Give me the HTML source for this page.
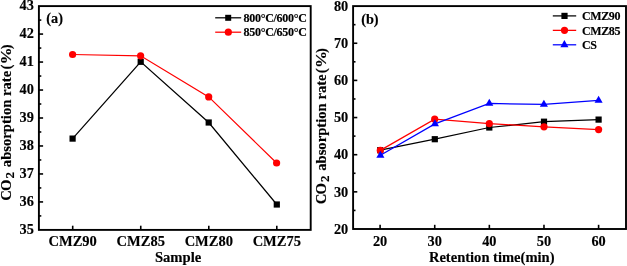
<!DOCTYPE html>
<html><head><meta charset="utf-8"><style>
html,body{margin:0;padding:0;background:#fff;}
svg{display:block;will-change:transform;}
text{font-family:"Liberation Serif", serif;font-weight:bold;fill:#000;stroke:#000;stroke-width:0.15px;}
</style></head><body>
<svg width="627" height="266" viewBox="0 0 627 266">
<rect width="627" height="266" fill="#fff"/>
<polyline points="72.6,138.6 140.7,61.8 208.7,122.5 276.8,204.5" fill="none" stroke="#000" stroke-width="1.25"/>
<polyline points="72.6,54.5 140.6,55.8 208.7,96.9 276.6,163" fill="none" stroke="#f00" stroke-width="1.25"/>
<rect x="69.5" y="135.5" width="6.2" height="6.2" fill="#000"/>
<rect x="137.6" y="58.7" width="6.2" height="6.2" fill="#000"/>
<rect x="205.6" y="119.4" width="6.2" height="6.2" fill="#000"/>
<rect x="273.7" y="201.4" width="6.2" height="6.2" fill="#000"/>
<circle cx="72.6" cy="54.5" r="3.6" fill="#f00"/>
<circle cx="140.6" cy="55.8" r="3.6" fill="#f00"/>
<circle cx="208.7" cy="96.9" r="3.6" fill="#f00"/>
<circle cx="276.6" cy="163" r="3.6" fill="#f00"/>
<rect x="38.9" y="6.1" width="271.8" height="223.8" fill="none" stroke="#000" stroke-width="1.9"/>
<text x="33.8" y="234.2" font-size="14.3" text-anchor="end" >35</text>
<line x1="38.9" y1="201.93" x2="43.1" y2="201.93" stroke="#000" stroke-width="1.6"/>
<text x="33.8" y="206.21" font-size="14.3" text-anchor="end" >36</text>
<line x1="38.9" y1="173.95" x2="43.1" y2="173.95" stroke="#000" stroke-width="1.6"/>
<text x="33.8" y="178.22" font-size="14.3" text-anchor="end" >37</text>
<line x1="38.9" y1="145.97" x2="43.1" y2="145.97" stroke="#000" stroke-width="1.6"/>
<text x="33.8" y="150.23" font-size="14.3" text-anchor="end" >38</text>
<line x1="38.9" y1="118" x2="43.1" y2="118" stroke="#000" stroke-width="1.6"/>
<text x="33.8" y="122.24" font-size="14.3" text-anchor="end" >39</text>
<line x1="38.9" y1="90.03" x2="43.1" y2="90.03" stroke="#000" stroke-width="1.6"/>
<text x="33.8" y="94.25" font-size="14.3" text-anchor="end" >40</text>
<line x1="38.9" y1="62.05" x2="43.1" y2="62.05" stroke="#000" stroke-width="1.6"/>
<text x="33.8" y="66.26" font-size="14.3" text-anchor="end" >41</text>
<line x1="38.9" y1="34.07" x2="43.1" y2="34.07" stroke="#000" stroke-width="1.6"/>
<text x="33.8" y="38.27" font-size="14.3" text-anchor="end" >42</text>
<text x="33.8" y="10.28" font-size="14.3" text-anchor="end" >43</text>
<line x1="38.9" y1="215.91" x2="41.3" y2="215.91" stroke="#000" stroke-width="1.6"/>
<line x1="38.9" y1="187.94" x2="41.3" y2="187.94" stroke="#000" stroke-width="1.6"/>
<line x1="38.9" y1="159.96" x2="41.3" y2="159.96" stroke="#000" stroke-width="1.6"/>
<line x1="38.9" y1="131.99" x2="41.3" y2="131.99" stroke="#000" stroke-width="1.6"/>
<line x1="38.9" y1="104.01" x2="41.3" y2="104.01" stroke="#000" stroke-width="1.6"/>
<line x1="38.9" y1="76.04" x2="41.3" y2="76.04" stroke="#000" stroke-width="1.6"/>
<line x1="38.9" y1="48.06" x2="41.3" y2="48.06" stroke="#000" stroke-width="1.6"/>
<line x1="38.9" y1="20.09" x2="41.3" y2="20.09" stroke="#000" stroke-width="1.6"/>
<line x1="72.7" y1="229.9" x2="72.7" y2="225.7" stroke="#000" stroke-width="1.6"/>
<text x="72.7" y="246.35" font-size="14.5" text-anchor="middle" >CMZ90</text>
<line x1="140.75" y1="229.9" x2="140.75" y2="225.7" stroke="#000" stroke-width="1.6"/>
<text x="140.75" y="246.35" font-size="14.5" text-anchor="middle" >CMZ85</text>
<line x1="208.8" y1="229.9" x2="208.8" y2="225.7" stroke="#000" stroke-width="1.6"/>
<text x="208.8" y="246.35" font-size="14.5" text-anchor="middle" >CMZ80</text>
<line x1="276.8" y1="229.9" x2="276.8" y2="225.7" stroke="#000" stroke-width="1.6"/>
<text x="276.8" y="246.35" font-size="14.5" text-anchor="middle" >CMZ75</text>
<text x="178.1" y="261.9" font-size="14.65" text-anchor="middle" >Sample</text>
<text x="54.6" y="23.3" font-size="14.3" text-anchor="middle" >(a)</text>
<g transform="translate(11,0) rotate(-90)" font-size="14.65"><text x="-200.7" y="0" letter-spacing="-0.8">CO</text><text x="-178.4" y="3" font-size="13">2</text><text x="-167.2" y="0">absorption rate</text><text x="-69.6" y="0">(</text><text transform="translate(-64.4,0) scale(1.17,1)" x="0" y="0">%</text><text x="-49.3" y="0">)</text></g>
<line x1="215.2" y1="17.8" x2="241.2" y2="17.8" stroke="#000" stroke-width="1.25"/>
<rect x="225.2" y="14.8" width="6" height="6" fill="#000"/>
<text x="243.6" y="22" font-size="12.0" text-anchor="start" letter-spacing="-0.3">800°C/600°C</text>
<line x1="215.2" y1="32.2" x2="241.2" y2="32.2" stroke="#f00" stroke-width="1.25"/>
<circle cx="228.3" cy="32.2" r="3.6" fill="#f00"/>
<text x="243.6" y="36.4" font-size="12.0" text-anchor="start" letter-spacing="-0.3">850°C/650°C</text>
<polyline points="380.2,150.2 434.8,139.2 489.3,127.5 544,121.7 598.6,119.6" fill="none" stroke="#000" stroke-width="1.25"/>
<rect x="377.1" y="147.1" width="6.2" height="6.2" fill="#000"/>
<rect x="431.7" y="136.1" width="6.2" height="6.2" fill="#000"/>
<rect x="486.2" y="124.4" width="6.2" height="6.2" fill="#000"/>
<rect x="540.9" y="118.6" width="6.2" height="6.2" fill="#000"/>
<rect x="595.5" y="116.5" width="6.2" height="6.2" fill="#000"/>
<polyline points="380.3,150.4 434.7,119.2 489.3,123.6 544,126.8 598.6,129.6" fill="none" stroke="#f00" stroke-width="1.25"/>
<circle cx="380.3" cy="150.4" r="3.6" fill="#f00"/>
<circle cx="434.7" cy="119.2" r="3.6" fill="#f00"/>
<circle cx="489.3" cy="123.6" r="3.6" fill="#f00"/>
<circle cx="544" cy="126.8" r="3.6" fill="#f00"/>
<circle cx="598.6" cy="129.6" r="3.6" fill="#f00"/>
<polyline points="380.4,155.3 434.9,123.9 489.3,103.5 543.9,104.3 598.6,100.3" fill="none" stroke="#00f" stroke-width="1.25"/>
<path d="M380.4 150.63 L384.45 157.63 L376.35 157.63 Z" fill="#00f"/>
<path d="M434.9 119.23 L438.95 126.23 L430.85 126.23 Z" fill="#00f"/>
<path d="M489.3 98.83 L493.35 105.83 L485.25 105.83 Z" fill="#00f"/>
<path d="M543.9 99.63 L547.95 106.63 L539.85 106.63 Z" fill="#00f"/>
<path d="M598.6 95.63 L602.65 102.63 L594.55 102.63 Z" fill="#00f"/>
<rect x="353.1" y="6.1" width="272.9" height="222.9" fill="none" stroke="#000" stroke-width="1.9"/>
<text x="348.2" y="233.9" font-size="14.3" text-anchor="end" >20</text>
<line x1="353.1" y1="191.85" x2="357.3" y2="191.85" stroke="#000" stroke-width="1.6"/>
<text x="348.2" y="196.68" font-size="14.3" text-anchor="end" >30</text>
<line x1="353.1" y1="154.7" x2="357.3" y2="154.7" stroke="#000" stroke-width="1.6"/>
<text x="348.2" y="159.46" font-size="14.3" text-anchor="end" >40</text>
<line x1="353.1" y1="117.55" x2="357.3" y2="117.55" stroke="#000" stroke-width="1.6"/>
<text x="348.2" y="122.24" font-size="14.3" text-anchor="end" >50</text>
<line x1="353.1" y1="80.4" x2="357.3" y2="80.4" stroke="#000" stroke-width="1.6"/>
<text x="348.2" y="85.02" font-size="14.3" text-anchor="end" >60</text>
<line x1="353.1" y1="43.25" x2="357.3" y2="43.25" stroke="#000" stroke-width="1.6"/>
<text x="348.2" y="47.8" font-size="14.3" text-anchor="end" >70</text>
<text x="348.2" y="10.58" font-size="14.3" text-anchor="end" >80</text>
<line x1="353.1" y1="210.43" x2="355.5" y2="210.43" stroke="#000" stroke-width="1.6"/>
<line x1="353.1" y1="173.28" x2="355.5" y2="173.28" stroke="#000" stroke-width="1.6"/>
<line x1="353.1" y1="136.12" x2="355.5" y2="136.12" stroke="#000" stroke-width="1.6"/>
<line x1="353.1" y1="98.97" x2="355.5" y2="98.97" stroke="#000" stroke-width="1.6"/>
<line x1="353.1" y1="61.82" x2="355.5" y2="61.82" stroke="#000" stroke-width="1.6"/>
<line x1="353.1" y1="24.68" x2="355.5" y2="24.68" stroke="#000" stroke-width="1.6"/>
<line x1="380.1" y1="229" x2="380.1" y2="224.8" stroke="#000" stroke-width="1.6"/>
<text x="380.1" y="245.9" font-size="14.3" text-anchor="middle" >20</text>
<line x1="434.73" y1="229" x2="434.73" y2="224.8" stroke="#000" stroke-width="1.6"/>
<text x="434.73" y="245.9" font-size="14.3" text-anchor="middle" >30</text>
<line x1="489.35" y1="229" x2="489.35" y2="224.8" stroke="#000" stroke-width="1.6"/>
<text x="489.35" y="245.9" font-size="14.3" text-anchor="middle" >40</text>
<line x1="543.98" y1="229" x2="543.98" y2="224.8" stroke="#000" stroke-width="1.6"/>
<text x="543.98" y="245.9" font-size="14.3" text-anchor="middle" >50</text>
<line x1="598.6" y1="229" x2="598.6" y2="224.8" stroke="#000" stroke-width="1.6"/>
<text x="598.6" y="245.9" font-size="14.3" text-anchor="middle" >60</text>
<text x="491.7" y="262.1" font-size="14.55" text-anchor="middle" >Retention time(min)</text>
<text x="369.9" y="24.2" font-size="14.3" text-anchor="middle" >(b)</text>
<g transform="translate(325.6,3.6) rotate(-90)" font-size="14.65"><text x="-200.7" y="0" letter-spacing="-0.8">CO</text><text x="-178.4" y="3" font-size="13">2</text><text x="-167.2" y="0">absorption rate</text><text x="-69.6" y="0">(</text><text transform="translate(-64.4,0) scale(1.17,1)" x="0" y="0">%</text><text x="-49.3" y="0">)</text></g>
<line x1="552.8" y1="15.9" x2="576.2" y2="15.9" stroke="#000" stroke-width="1.25"/>
<rect x="561.4" y="12.8" width="6.2" height="6.2" fill="#000"/>
<text x="582" y="20.05" font-size="12.0" text-anchor="start" letter-spacing="-0.4">CMZ90</text>
<line x1="552.8" y1="30.35" x2="576.2" y2="30.35" stroke="#f00" stroke-width="1.25"/>
<circle cx="564.5" cy="30.35" r="3.6" fill="#f00"/>
<text x="582" y="34.5" font-size="12.0" text-anchor="start" letter-spacing="-0.4">CMZ85</text>
<line x1="552.8" y1="44.8" x2="576.2" y2="44.8" stroke="#00f" stroke-width="1.25"/>
<path d="M564.4 39.93 L568.45 47.23 L560.35 47.23 Z" fill="#00f"/>
<text x="582" y="48.95" font-size="12.0" text-anchor="start" letter-spacing="-0.4">CS</text>
</svg>
</body></html>
